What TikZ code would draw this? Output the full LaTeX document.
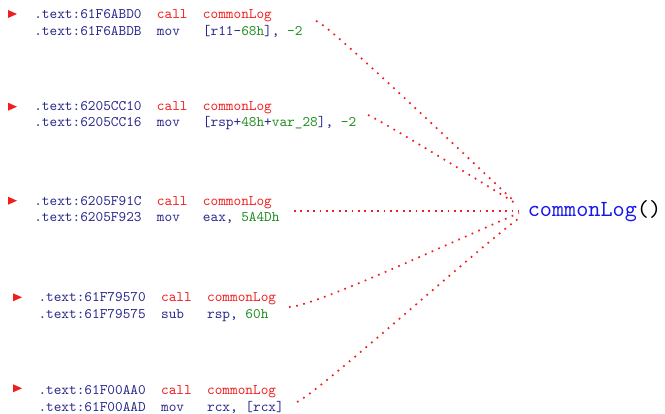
\documentclass[tikz,border=0pt]{standalone}
\usepackage{fontspec}
\newfontfamily\asmfont{lmmono10-regular}[Extension=.otf]
\definecolor{navy}{RGB}{40,40,140}
\definecolor{asmred}{RGB}{240,30,30}
\definecolor{asmgreen}{RGB}{30,140,30}
\definecolor{fnblue}{RGB}{20,20,240}
\newcommand{\rd}[1]{\textcolor{asmred}{#1}}
\newcommand{\gr}[1]{\textcolor{asmgreen}{#1}}
\tikzset{
  asm/.style={anchor=base west, inner sep=0pt, outer sep=0pt,
    font=\asmfont\fontsize{14.6}{17}\selectfont, text=navy},
  tri/.style={fill=asmred},
  link/.style={draw=asmred, line width=1.7pt, dash pattern=on 1.7pt off 5.6pt},
  fn/.style={anchor=base west, inner sep=0pt, outer sep=0pt,
    font=\asmfont\fontsize{23.1}{28}\selectfont, text=fnblue},
}
\begin{document}
\begin{tikzpicture}[x=1pt,y=1pt]
\useasboundingbox (0,0) rectangle (665,-414);

% block 1
\fill[tri] (8,-10) -- (17,-14) -- (8,-18) -- cycle;
\node[asm] (a1) at (34.3,-18.3) {.text:61F6ABD0\ \ \rd{call}\ \ \rd{commonLog}};
\node[asm] (b1) at (34.3,-35.3) {.text:61F6ABDB\ \ mov\ \ \ [r11-\gr{68h}],\ \gr{-2}};
% block 2
\fill[tri] (8,-102.7) -- (17,-106.7) -- (8,-110.7) -- cycle;
\node[asm] (a2) at (34.3,-110.7) {.text:6205CC10\ \ \rd{call}\ \ \rd{commonLog}};
\node[asm] (b2) at (34.3,-127) {.text:6205CC16\ \ mov\ \ \ [rsp+\gr{48h}+\gr{var\_28}],\ \gr{-2}};
% block 3
\fill[tri] (8,-196.7) -- (17,-200.7) -- (8,-204.7) -- cycle;
\node[asm] (a3) at (34.3,-205.7) {.text:6205F91C\ \ \rd{call}\ \ \rd{commonLog}};
\node[asm] (b3) at (34.3,-222) {.text:6205F923\ \ mov\ \ \ eax,\ \gr{5A4Dh}};
% block 4
\fill[tri] (13,-293.3) -- (22,-297.3) -- (13,-301.3) -- cycle;
\node[asm] (a4) at (38.5,-301.7) {.text:61F79570\ \ \rd{call}\ \ \rd{commonLog}};
\node[asm] (b4) at (38.5,-318.3) {.text:61F79575\ \ sub\ \ \ rsp,\ \gr{60h}};
% block 5
\fill[tri] (13,-384.3) -- (22,-388.3) -- (13,-392.3) -- cycle;
\node[asm] (a5) at (38.5,-395) {.text:61F00AA0\ \ \rd{call}\ \ \rd{commonLog}};
\node[asm] (b5) at (38.5,-411.5) {.text:61F00AAD\ \ mov\ \ \ rcx,\ [rcx]};

% target
\node[fn] (cl) at (527.8,-216.7) {commonLog\textcolor{black}{()}};

% connector ends
\coordinate (s1) at (316,-21);
\coordinate (s2) at (368,-115);
\coordinate (s3) at (294,-211);
\coordinate (s4) at (289,-307);
\coordinate (s5) at (297,-402);
\coordinate (e1) at (514,-201);
\coordinate (e2) at (515,-203);
\coordinate (e3) at (519,-211);
\coordinate (e4) at (519,-213);
\coordinate (e5) at (518,-219);

\draw[link] (s1) to[out=-12, in=137, out distance=12pt, in distance=70pt] (e1);
\draw[link] (s2) to[out=-20, in=148, out distance=10pt, in distance=40pt] (e2);
\draw[link, dash pattern=on 1.7pt off 4.7pt] (s3) -- (e3);
\draw[link] (s4) to[out=0, in=203, out distance=25pt, in distance=60pt] (e4);
\draw[link] (s5) to[out=25, in=216, out distance=25pt, in distance=50pt] (e5);
\end{tikzpicture}
\end{document}
